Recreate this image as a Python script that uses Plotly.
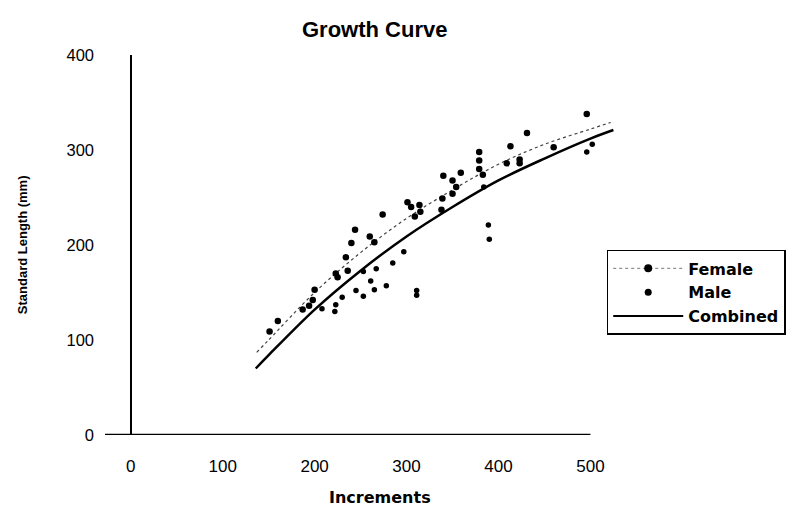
import plotly.graph_objects as go

# Female observations (increments, standard length mm)
female_x = [151, 160, 187, 194, 198, 200, 223, 225, 234, 236, 240, 244, 260, 265, 274,
            301, 305, 309, 314, 315, 338, 339, 340, 350, 350, 354, 359, 379, 379, 379,
            383, 409, 413, 423, 423, 431, 460, 496]
female_y = [109, 120, 132, 136, 142, 153, 170, 166, 187, 173, 202, 216, 209, 203, 232,
            245, 240, 230, 242, 235, 237, 249, 273, 268, 254, 261, 276, 298, 289, 280,
            274, 286, 304, 290, 286, 318, 303, 338]

# Male observations
male_x = [208, 222, 223, 230, 245, 253, 253, 261, 265, 267, 278, 285, 297, 311, 311,
          384, 389, 390, 502, 496]
male_y = [133, 130, 137, 145, 152, 172, 146, 162, 153, 175, 157, 181, 193, 152, 147,
          261, 221, 206, 306, 298]

# Fitted curves
female_curve_x = [137, 150, 200, 250, 300, 350, 400, 450, 500, 522]
female_curve_y = [87, 100, 150, 192, 228, 258, 285, 306, 322, 329]
combined_curve_x = [136, 150, 200, 250, 300, 350, 400, 450, 500, 525]
combined_curve_y = [70, 84, 132, 173, 209, 240, 268, 291, 312, 321]

x_ticks = [0, 100, 200, 300, 400, 500]
y_ticks = [0, 100, 200, 300, 400]

FONT = "Liberation Sans, Arial, sans-serif"
WIDE = "DejaVu Sans, Liberation Sans, sans-serif"

fig = go.Figure()
fig.add_trace(go.Scatter(x=female_curve_x, y=female_curve_y, mode="lines",
                         line=dict(color="#444", width=1.2, dash="dot", shape="spline"),
                         showlegend=False, hoverinfo="skip"))
fig.add_trace(go.Scatter(x=combined_curve_x, y=combined_curve_y, mode="lines",
                         line=dict(color="black", width=2.5, shape="spline"),
                         showlegend=False, hoverinfo="skip"))
fig.add_trace(go.Scatter(x=female_x, y=female_y, mode="markers",
                         marker=dict(color="black", size=6.5),
                         showlegend=False))
fig.add_trace(go.Scatter(x=male_x, y=male_y, mode="markers",
                         marker=dict(color="black", size=5.5),
                         showlegend=False))
# legend entries
fig.add_trace(go.Scatter(x=[None], y=[None], mode="lines+markers", name="Female",
                         marker=dict(color="black", size=8),
                         line=dict(color="#777", width=1, dash="dot")))
fig.add_trace(go.Scatter(x=[None], y=[None], mode="markers", name="Male",
                         marker=dict(color="black", size=7)))
fig.add_trace(go.Scatter(x=[None], y=[None], mode="lines", name="Combined",
                         line=dict(color="black", width=2)))

fig.add_shape(type="line", xref="x", yref="y", x0=-28, x1=x_ticks[-1], y0=0, y1=0,
              line=dict(color="black", width=2.5))

fig.update_layout(
    width=805, height=522,
    margin=dict(l=105, r=187, t=55, b=87, autoexpand=False),
    paper_bgcolor="white", plot_bgcolor="white",
    font=dict(family=FONT, color="black", size=14),
    showlegend=True,
    legend=dict(x=0.978, y=0.487, xanchor="left", yanchor="top",
                bordercolor="black", borderwidth=1.5, bgcolor="white",
                font=dict(family=WIDE, size=16, color="black", weight="bold"),
                itemwidth=70, tracegroupgap=0),
    xaxis=dict(range=[-28, 530], tickvals=x_ticks, ticktext=[str(v) for v in x_ticks],
               showgrid=False, showline=False, zeroline=True, zerolinecolor="black",
               zerolinewidth=2, ticks="", ticklabelstandoff=19,
               tickfont=dict(size=17, family=FONT)),
    yaxis=dict(range=[0, 400], tickvals=y_ticks, showgrid=False, showline=False,
               zeroline=False, ticks="", ticklabelstandoff=10,
               tickfont=dict(size=16.5, family=FONT)),
    annotations=[
        dict(text="<b>Growth Curve</b>", xref="paper", yref="paper",
             x=0.526, y=1.0, yshift=40, showarrow=False,
             font=dict(size=22, family=FONT)),
        dict(text="<b>Increments</b>", xref="paper", yref="paper",
             x=0.536, y=-0.163, yshift=-12, showarrow=False, font=dict(size=16, family=WIDE)),
        dict(text="<b>Standard Length (mm)</b>", xref="paper", yref="paper",
             x=-0.18, y=0.5, textangle=-90, showarrow=False,
             font=dict(size=13, family=FONT)),
    ],
)

fig.write_html("out.html", config={"displayModeBar": False},
               post_script="document.body.style.margin='0';")
